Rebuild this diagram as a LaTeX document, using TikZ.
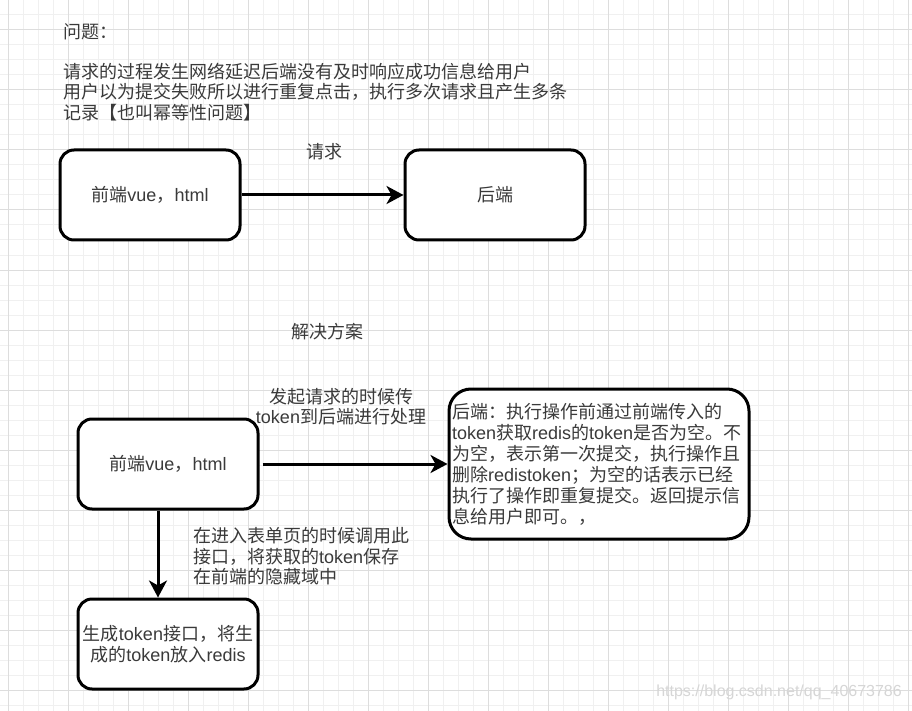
\documentclass[tikz,border=0pt]{standalone}
\usepackage{fontspec}
\usetikzlibrary{arrows.meta}
\setmainfont{Liberation Sans}
\newfontfamily\cjkfont{Noto Sans CJK SC}
\newfontfamily\latinfont{Liberation Sans}
\XeTeXinterchartokenstate=1
\newXeTeXintercharclass\cjkclass
\newcount\cjkc
\def\setcjkrange#1#2{\cjkc=#1\relax
  \loop\XeTeXcharclass\cjkc=\cjkclass\relax
  \ifnum\cjkc<#2\advance\cjkc by 1\repeat}
\setcjkrange{"3000}{"303F}
\setcjkrange{"4E00}{"9FFF}
\setcjkrange{"FF00}{"FFEF}
\XeTeXinterchartoks 0 \cjkclass = {\cjkfont}
\XeTeXinterchartoks 4095 \cjkclass = {\cjkfont}
\XeTeXinterchartoks \cjkclass 0 = {\latinfont}
\XeTeXinterchartoks \cjkclass 4095 = {\latinfont}
\definecolor{gridminor}{HTML}{F0F0F0}
\definecolor{gridmajor}{HTML}{DDDDDD}
\definecolor{txt}{HTML}{3A3A3A}
\definecolor{wmark}{HTML}{D6D6D6}
\newcommand\fsbig{\fontsize{18}{20.5}\selectfont}
\newcommand\fsbox{\fontsize{18}{21}\selectfont}
\begin{document}
\begin{tikzpicture}[x=1pt,y=-1pt,
  minorline/.style={gridminor,line width=1pt},
  majorline/.style={gridmajor,line width=1pt},
  lbl/.style={font=\fsbig,text=txt,inner sep=0pt},
  boxnode/.style={draw=black,line width=3pt,rounded corners=14pt,fill=white,
    minimum width=180pt,minimum height=90pt,font=\fsbig,text=txt,align=center,inner sep=2pt},
  arr/.style={line width=3pt,-{Stealth[length=17pt,width=18pt,inset=5pt]}}]
\useasboundingbox (0,0) rectangle (912,711);
\fill[white] (0,0) rectangle (912,711);
% grid
\foreach \k in {0,...,60} \draw[minorline] (8.3+15*\k,0) -- (8.3+15*\k,711);
\foreach \k in {0,...,47} \draw[minorline] (0,15*\k) -- (912,15*\k);
\foreach \k in {0,...,15} \draw[majorline] (8.3+60*\k,0) -- (8.3+60*\k,711);
\foreach \k in {0,...,11} \draw[majorline] (0,30+60*\k) -- (912,30+60*\k);
% top texts
\node[lbl,anchor=west] (q) at (63,32) {问题：};
\node[lbl,anchor=west,align=left] (desc) at (63,92)
  {请求的过程发生网络延迟后端没有及时响应成功信息给用户\\
   用户以为提交失败所以进行重复点击，执行多次请求且产生多条\\
   记录【也叫幂等性问题】};
% first diagram
\node[boxnode] (fe1) at (150,195) {前端vue，html};
\node[boxnode] (be1) at (495,195) {后端};
\draw[arr] (fe1.east) -- (be1.west);
\node[lbl] (req) at (324,152) {请求};
% solution
\node[lbl] (sol) at (327,332) {解决方案};
\node[boxnode] (fe2) at (168,464) {前端vue，html};
\node[boxnode,rounded corners=22pt,minimum width=300pt,minimum height=150pt,
  text width=294pt,align=left,inner xsep=3pt,font=\fsbox] (be2) at (599,464)
  {后端：执行操作前通过前端传入的\\
   token获取redis的token是否为空。不\\
   为空，表示第一次提交，执行操作且\\
   删除redistoken；为空的话表示已经\\
   执行了操作即重复提交。返回提示信\\
   息给用户即可。，};
\node[boxnode] (gen) at (168,644) {生成token接口，将生\\成的token放入redis};
\draw[arr] ([xshift=3pt]fe2.east) -- (be2.west);
\draw[arr] ([xshift=-10pt]fe2.south) -- ([xshift=-10pt]gen.north);
\node[lbl,align=center] (send) at (341,406.5) {发起请求的时候传\\token到后端进行处理};
\node[lbl,anchor=west,align=left] (enter) at (193,556.5)
  {在进入表单页的时候调用此\\接口，将获取的token保存\\在前端的隐藏域中};
% watermark
\node[font=\fontsize{16}{18}\selectfont,text=wmark,anchor=east,inner sep=0pt] (wm) at (902,692)
  {https://blog.csdn.net/qq\_40673786};
\end{tikzpicture}
\end{document}
